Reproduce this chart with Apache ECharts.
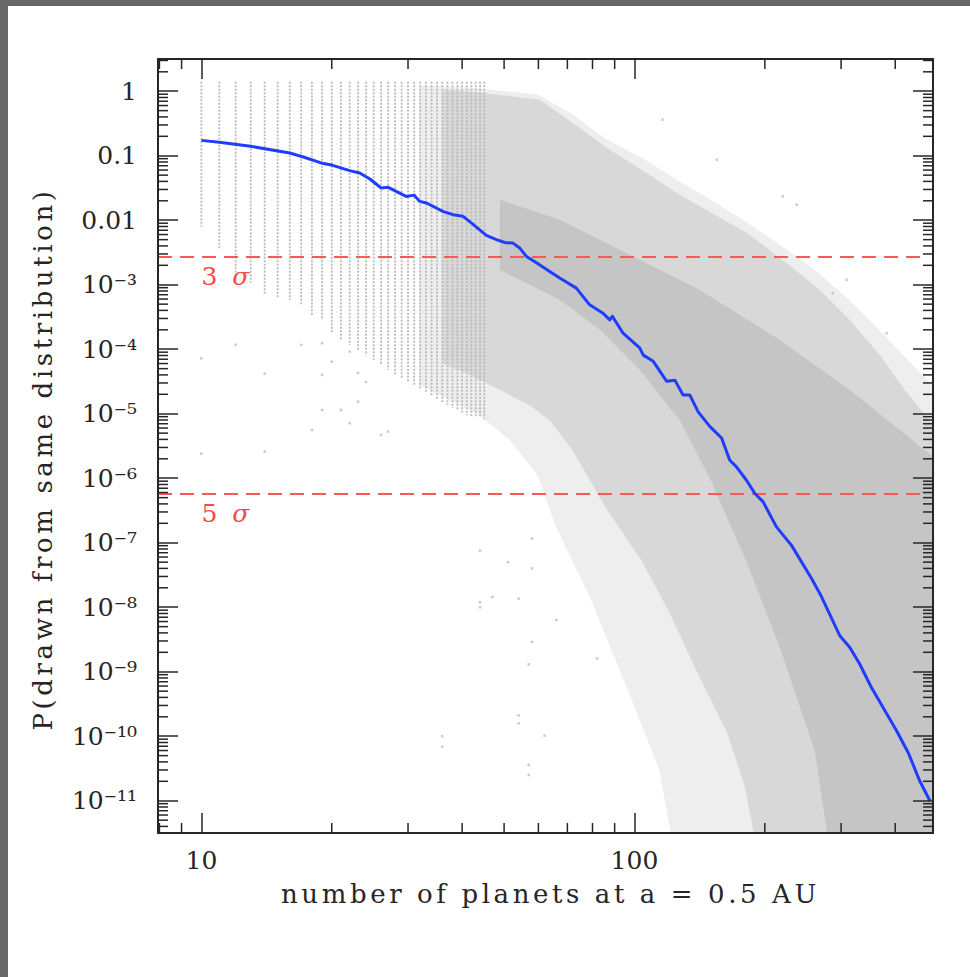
<!DOCTYPE html>
<html>
<head>
<meta charset="utf-8">
<script src="https://cdn.jsdelivr.net/npm/echarts@6/dist/echarts.min.js"></script>
<style>
  html, body { margin: 0; padding: 0; width: 970px; height: 977px; overflow: hidden; background: #686868; }
  #chart { position: absolute; left: 8px; top: 6px; width: 962px; height: 971px; background: #ffffff; }
  /* axis titles are set wide, like the plotting package's stroke font */
  #chart text[style*="26px"] { letter-spacing: 3.6px; }
</style>
</head>
<body>
<div id="chart"></div>
<script>
// ---- axis extents and ticks ----
const xRange = [7.94, 489];
const yRange = [3.16e-12, 3.16];
const xTickValues = [10, 100];
const xTickLabels = ['10', '100'];
const xMinorTicks = [8, 9, 20, 30, 40, 50, 60, 70, 80, 90, 200, 300, 400];
const yTickExponents = [0, -1, -2, -3, -4, -5, -6, -7, -8, -9, -10, -11];
const yTickLabels = ['1', '0.1', '0.01', '10⁻³', '10⁻⁴', '10⁻⁵', '10⁻⁶', '10⁻⁷', '10⁻⁸', '10⁻⁹', '10⁻¹⁰', '10⁻¹¹'];

// ---- median probability versus planet count ----
const medianN = [10, 11, 13, 16, 17.2, 18.9, 20.1, 22, 23.2, 24.5,
  26, 27, 29.7, 31, 31.9, 33.1, 36.1, 38.1, 40.2, 42,
  45.5, 48, 50.2, 52.4, 54.3, 56.3, 59.4, 63.7, 67.2, 73.4,
  78.8, 84.6, 87.7, 88.9, 94.1, 102.8, 104.8, 110.5, 118.6, 124,
  129.5, 134.2, 140.3, 149.4, 158.9, 166, 172, 181.4, 189.7, 198.2,
  212.7, 230.5, 256.4, 270.4, 298, 314, 331, 352, 375, 402.6,
  428.5, 456, 481];
const medianP = [0.173, 0.162, 0.140, 0.110, 0.0957, 0.0773, 0.0710, 0.0587, 0.0541, 0.0436,
  0.0316, 0.0324, 0.0234, 0.0245, 0.0196, 0.0185, 0.0137, 0.0122, 0.0115, 0.00912,
  0.00581, 0.00501, 0.00452, 0.00442, 0.00372, 0.00275, 0.00219, 0.00160, 0.00127, 8.85e-4,
  4.88e-4, 3.62e-4, 2.85e-4, 3.24e-4, 1.78e-4, 1.05e-4, 8.1e-5, 6.5e-5, 3.2e-5, 3.3e-5,
  1.95e-5, 1.95e-5, 1.07e-5, 6.3e-6, 4.2e-6, 1.9e-6, 1.5e-6, 9.3e-7, 5.8e-7, 4.3e-7,
  1.76e-7, 9.1e-8, 2.78e-8, 1.45e-8, 3.6e-9, 2.4e-9, 1.33e-9, 5.8e-10, 2.8e-10, 1.23e-10,
  5.6e-11, 2.0e-11, 1.0e-11];

// ---- realisations: integer-N columns at small counts ----
const columnN = [10, 11, 12, 13, 14, 15, 16, 17, 18, 19, 20, 21, 22, 23, 24, 25, 26, 27, 28, 29,
  30, 31, 32, 33, 34, 35, 36, 37, 38, 39, 40, 41, 42, 43, 44, 45];
const columnTopP = 1.4;
const columnBottomP = [7.9e-3, 3.5e-3, 1.4e-3, 1.07e-3, 6.9e-4, 6.3e-4, 5.8e-4, 4.9e-4, 3.4e-4, 2.85e-4,
  1.8e-4, 1.4e-4, 1.16e-4, 9.8e-5, 8.1e-5, 6.8e-5, 5.7e-5, 4.8e-5, 4.0e-5, 3.6e-5,
  3.1e-5, 2.7e-5, 2.33e-5, 2.1e-5, 1.9e-5, 1.7e-5, 1.52e-5, 1.37e-5, 1.23e-5, 1.1e-5, 9.9e-6,
  9.5e-6, 9.2e-6, 8.9e-6, 8.6e-6, 8.3e-6];

// ---- realisations: isolated points away from the main cloud, [N, P] ----
const strayPoints = [[10, 7.2e-5], [10, 2.4e-6], [14, 4.2e-5], [14, 2.6e-6], [12, 1.17e-4],
  [17, 1.17e-4], [19, 1.24e-4], [19, 1.14e-5], [21, 1.14e-5], [18, 5.6e-6],
  [22, 7.1e-6], [23, 1.54e-5], [26, 4.7e-6], [27, 5.3e-6], [22, 9.2e-5],
  [20, 6.4e-5], [19, 4.0e-5], [23, 4.3e-5], [24, 3.1e-5], [44, 7.6e-8],
  [47, 1.44e-8], [44, 1.2e-8], [54, 1.36e-8], [58, 4.0e-8], [58, 1.16e-7],
  [51, 5.0e-8], [58, 2.9e-9], [57, 1.3e-9], [54, 2.1e-10], [36, 1.0e-10],
  [62, 1.02e-10], [57, 3.6e-11], [36, 6.9e-11], [57, 2.5e-11], [44, 1.0e-8],
  [54, 1.58e-10], [82, 1.6e-9], [66, 6.3e-9], [237, 0.0174], [287, 7.4e-4],
  [382, 1.77e-4], [309, 1.19e-3], [155, 0.087], [116, 0.363], [220, 0.0234]];

// ---- realisations: outlines of the point cloud, [N, P] ----
const cloudSparse = [[31.9, 1.23], [41.7, 1.14], [59.8, 0.889], [72.0, 0.435], [86.3, 0.178],
  [103.9, 0.0934], [125.2, 0.0426], [150.1, 0.0208], [180.7, 9.5e-3], [216.6, 4.17e-3],
  [261, 1.7e-3], [312.6, 5.83e-4], [376.6, 1.67e-4], [427.9, 6.8e-5], [500, 2.33e-5],
  [500, 1e-12], [125.2, 1e-12], [113.8, 3.2e-11], [95.0, 6.8e-10], [78.8, 1.47e-8],
  [65.8, 1.8e-7], [59.8, 1.1e-6], [51.5, 3.9e-6], [43.9, 9.5e-6], [37.4, 1.62e-5], [31.9, 2.8e-5]];
const cloudMedium = [[36, 1.05], [41.7, 0.99], [60.4, 0.743], [72.8, 0.304], [87.7, 0.124], [105.6, 0.0566],
  [127.2, 0.0249], [153.3, 0.0122], [184.6, 5.96e-3], [222.5, 2.27e-3], [268, 8.3e-4],
  [314.3, 2.85e-4], [368.7, 8.15e-5], [421.1, 2.33e-5], [500, 5.6e-6],
  [500, 1e-12], [194.8, 1e-12], [179.8, 1.66e-11], [164.2, 1.07e-10], [137.1, 1.26e-9],
  [120.6, 8.1e-9], [103.9, 5.2e-8], [86.3, 3.3e-7], [72.0, 2.7e-6], [63.7, 7.9e-6],
  [57.6, 1.32e-5], [48.9, 2.33e-5], [41.7, 3.98e-5], [36, 6.0e-5]];
const cloudDense = [[48.9, 0.0208], [67.2, 0.0102], [92.5, 3.48e-3], [141.6, 8.3e-4], [216.6, 1.39e-4],
  [314.3, 2.33e-5], [410, 5.6e-6], [500, 1.9e-6], [500, 1e-12], [285.6, 1e-12],
  [261, 5.8e-11], [216.6, 2.37e-9], [180.7, 5.4e-8], [150.1, 9.3e-7], [127.2, 7.9e-6],
  [102.8, 4.8e-5], [83.2, 2.0e-4], [67.2, 5.83e-4], [54.3, 1.19e-3], [48.9, 1.7e-3]];

// ---- significance thresholds ----
const sigmaNames = ['3', '5'];
const sigmaP = [2.7e-3, 5.7e-7];
const sigmaLineN = [7.94, 468];
const sigmaLabelN = 10;

const L = Math.log10;
const FONT = '"DejaVu Serif", "Liberation Serif", serif';
const INK = '#262626';
const DOT = '#bdbdbd';
const xMin = L(xRange[0]), xMax = L(xRange[1]);
const yMin = L(yRange[0]), yMax = L(yRange[1]);

const yMinorTicks = [];
for (let e = -12; e <= 0; e++) {
  for (let k = 2; k <= 9; k++) {
    const v = k * Math.pow(10, e);
    if (v > yRange[0] && v < yRange[1]) yMinorTicks.push(v);
  }
}

function xLabel(v) {
  const i = xTickValues.findIndex(t => Math.abs(L(t) - v) < 1e-6);
  return i < 0 ? '' : xTickLabels[i];
}
function yLabel(v) {
  const i = yTickExponents.findIndex(e => Math.abs(e - v) < 1e-6);
  return i < 0 ? '' : yTickLabels[i];
}

function xAxisDef(pos, withLabels) {
  return {
    type: 'value', position: pos, min: xMin, max: xMax, splitNumber: 2, z: 10,
    axisLine: { show: true, onZero: false, lineStyle: { color: INK, width: 2 } },
    axisTick: { show: true, inside: true, length: 20, lineStyle: { color: INK, width: 1.5 },
      customValues: xTickValues.map(L) },
    axisLabel: { show: withLabels, margin: 15, fontFamily: FONT, fontSize: 25, color: INK,
      customValues: xTickValues.map(L), formatter: xLabel },
    splitLine: { show: false },
    name: withLabels ? 'number of planets at a = 0.5 AU' : '',
    nameLocation: 'middle', nameGap: 48,
    nameTextStyle: { fontFamily: FONT, fontSize: 26, color: INK, padding: [0, 0, 0, 10] }
  };
}
function yAxisDef(pos, withLabels) {
  return {
    type: 'value', position: pos, min: yMin, max: yMax, splitNumber: 12, z: 10,
    axisLine: { show: true, onZero: false, lineStyle: { color: INK, width: 2 } },
    axisTick: { show: true, inside: true, length: 20, lineStyle: { color: INK, width: 1.5 },
      customValues: yTickExponents },
    axisLabel: { show: withLabels, margin: 21, fontFamily: FONT, fontSize: 25, color: INK,
      customValues: yTickExponents, formatter: yLabel },
    splitLine: { show: false },
    name: withLabels ? 'P(drawn from same distribution)' : '',
    nameLocation: 'middle', nameGap: 102,
    nameTextStyle: { fontFamily: FONT, fontSize: 26, color: INK, padding: [0, 26, 0, 0] }
  };
}

function cloudSeries(points, color, z) {
  return {
    type: 'custom', z: z, silent: true, clip: true,
    data: [[L(points[0][0]), L(points[0][1])]],
    renderItem: function (params, api) {
      const pts = points.map(p => api.coord([L(p[0]), L(p[1])]));
      return { type: 'polygon', shape: { points: pts }, style: { fill: color } };
    }
  };
}

const series = [
  cloudSeries(cloudSparse, '#eeeeee', 1),
  cloudSeries(cloudMedium, '#d8d8d8', 2),
  cloudSeries(cloudDense, '#c5c5c5', 3),
  {
    type: 'custom', z: 4, silent: true, clip: true,
    encode: { x: 0, y: [1, 2] },
    data: columnN.map((n, i) => [L(n), L(columnTopP), L(columnBottomP[i])]),
    renderItem: function (params, api) {
      const a = api.coord([api.value(0), api.value(1)]);
      const b = api.coord([api.value(0), api.value(2)]);
      return { type: 'line', shape: { x1: a[0], y1: a[1], x2: b[0], y2: b[1] },
        style: { stroke: '#b9b9b9', lineWidth: 1.8, lineDash: [2, 1.5] } };
    }
  },
  {
    type: 'scatter', z: 4, silent: true, symbol: 'rect', symbolSize: 2.5,
    data: strayPoints.map(p => [L(p[0]), L(p[1])]),
    itemStyle: { color: DOT }
  }
];

sigmaP.forEach(function (p) {
  series.push({
    type: 'line', z: 5, silent: true, symbol: 'none',
    data: sigmaLineN.map(n => [L(n), L(p)]),
    lineStyle: { color: '#ff5656', width: 2, type: [14, 8] }
  });
});

series.push({
  type: 'line', z: 6, silent: true, symbol: 'none',
  data: medianN.map((n, i) => [L(n), L(medianP[i])]),
  lineStyle: { color: '#1f3dff', width: 3, join: 'round' }
});

series.push({
  type: 'custom', z: 7, silent: true,
  data: sigmaP.map(p => [L(sigmaLabelN), L(p)]),
  renderItem: function (params, api) {
    const c = api.coord([api.value(0), api.value(1)]);
    return {
      type: 'text', x: c[0], y: c[1] + 20,
      style: {
        text: '{n|' + sigmaNames[params.dataIndex] + '}{s|σ}',
        align: 'left', verticalAlign: 'middle',
        rich: {
          n: { fontFamily: FONT, fontSize: 25, fill: '#ff4646' },
          s: { fontFamily: FONT, fontSize: 25, fontStyle: 'italic', fill: '#ff4646', padding: [0, 0, 0, 15] }
        }
      }
    };
  }
});

// minor ticks on all four sides of the frame
series.push({
  type: 'custom', z: 11, silent: true,
  data: xMinorTicks.map(v => [L(v), yMin]),
  renderItem: function (params, api) {
    const cs = params.coordSys;
    const px = api.coord([api.value(0), api.value(1)])[0];
    const st = { stroke: INK, lineWidth: 1.5 };
    return { type: 'group', children: [
      { type: 'line', shape: { x1: px, y1: cs.y + cs.height, x2: px, y2: cs.y + cs.height - 10 }, style: st },
      { type: 'line', shape: { x1: px, y1: cs.y, x2: px, y2: cs.y + 10 }, style: st }
    ] };
  }
});
series.push({
  type: 'custom', z: 11, silent: true,
  data: yMinorTicks.map(v => [xMin, L(v)]),
  renderItem: function (params, api) {
    const cs = params.coordSys;
    const py = api.coord([api.value(0), api.value(1)])[1];
    const st = { stroke: INK, lineWidth: 1.5 };
    return { type: 'group', children: [
      { type: 'line', shape: { x1: cs.x, y1: py, x2: cs.x + 10, y2: py }, style: st },
      { type: 'line', shape: { x1: cs.x + cs.width, y1: py, x2: cs.x + cs.width - 10, y2: py }, style: st }
    ] };
  }
});

const chart = echarts.init(document.getElementById('chart'), null, { renderer: 'svg' });
chart.setOption({
  animation: false,
  backgroundColor: '#ffffff',
  grid: { left: 150, top: 53, right: 37, bottom: 144, containLabel: false },
  xAxis: [xAxisDef('bottom', true), xAxisDef('top', false)],
  yAxis: [yAxisDef('left', true), yAxisDef('right', false)],
  series: series
});
</script>
</body>
</html>
